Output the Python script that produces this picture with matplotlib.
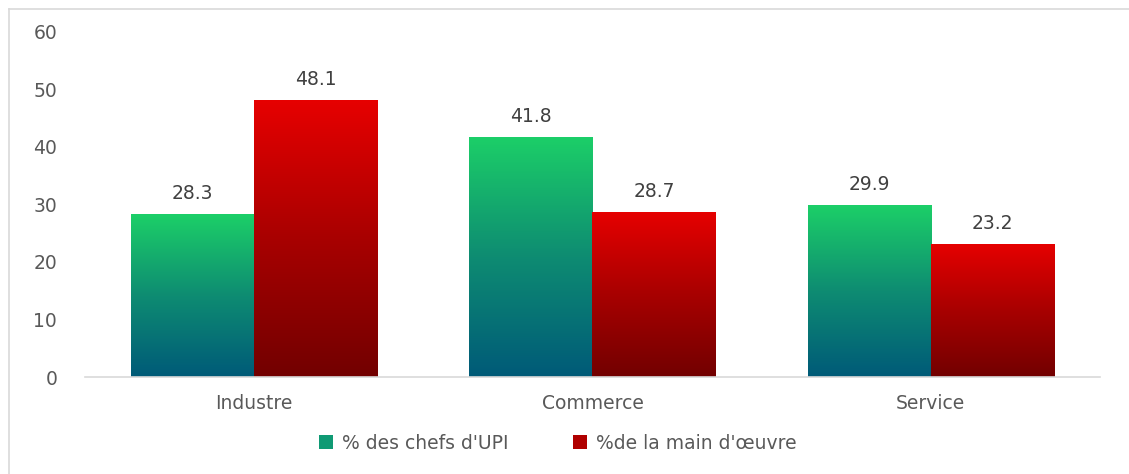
import matplotlib
matplotlib.use("Agg")
import matplotlib.pyplot as plt
import numpy as np
from matplotlib.colors import LinearSegmentedColormap
from matplotlib.patches import Patch
from matplotlib.lines import Line2D

categories = ["Industre", "Commerce", "Service"]
series_names = ["% des chefs d'UPI", "%de la main d'œuvre"]
chefs = [28.3, 41.8, 29.9]
main_oeuvre = [48.1, 28.7, 23.2]
yticks = [0, 10, 20, 30, 40, 50, 60]

plt.rcParams['font.family'] = ['DejaVu Sans']

fig = plt.figure(figsize=(11.29, 4.74), dpi=100)
ax = fig.add_axes([0.0753, 0.2046, 0.899, 0.728])

green_cmap = LinearSegmentedColormap.from_list("g", ["#005a78", "#0e8c72", "#1ccf68"])
red_cmap = LinearSegmentedColormap.from_list("r", ["#720000", "#a80000", "#e60000"])

x = np.arange(len(categories))
w = 0.364
ymax = 60
fs = 13.5

def grad_bars(xpos, vals, cmap):
    bars = ax.bar(xpos, vals, w, color="none", edgecolor="none")
    for b in bars:
        x0, y0 = b.get_x(), b.get_y()
        bw, bh = b.get_width(), b.get_height()
        grad = np.linspace(0, 1, 256).reshape(-1, 1)
        im = ax.imshow(grad, extent=[x0, x0 + bw, y0, y0 + bh], origin="lower",
                       aspect="auto", cmap=cmap, vmin=0, vmax=1, zorder=2)
        im.set_clip_path(b)
    return bars

b1 = grad_bars(x - w / 2, chefs, green_cmap)
b2 = grad_bars(x + w / 2, main_oeuvre, red_cmap)

for xs, vals in ((x - w / 2, chefs), (x + w / 2, main_oeuvre)):
    for xi, v in zip(xs, vals):
        ax.text(xi, v + 2.6, f"{v:.1f}", ha="center", va="baseline",
                fontsize=fs, color="#404040")

ax.set_xlim(-0.5, len(categories) - 0.5)
ax.set_ylim(0, ymax)
ax.set_yticks(yticks)
ax.set_xticks(x)
ax.set_xticklabels(categories)
ax.tick_params(axis="both", length=0, labelsize=fs, colors="#595959")
ax.tick_params(axis="x", pad=12)
ax.tick_params(axis="y", pad=20)
for s in ["top", "right", "left"]:
    ax.spines[s].set_visible(False)
ax.spines["bottom"].set_color("#d9d9d9")
ax.spines["bottom"].set_linewidth(1.2)

handles = [Patch(facecolor="#0f9a74", edgecolor="none"),
           Patch(facecolor="#b00000", edgecolor="none")]
fig.legend(handles, series_names, loc="center", bbox_to_anchor=(0.494, 0.065),
           ncol=2, frameon=False, fontsize=fs, handlelength=0.75, handleheight=0.75,
           handletextpad=0.5, columnspacing=3.4, labelcolor="#595959")

# outer frame lines (top and left)
fig.add_artist(Line2D([9 / 1129, 1.0], [1 - 9 / 474, 1 - 9 / 474], color="#d9d9d9", lw=1.2))
fig.add_artist(Line2D([9 / 1129, 9 / 1129], [0, 1 - 9 / 474], color="#d9d9d9", lw=1.2))

fig.savefig("out.png", dpi=100)
